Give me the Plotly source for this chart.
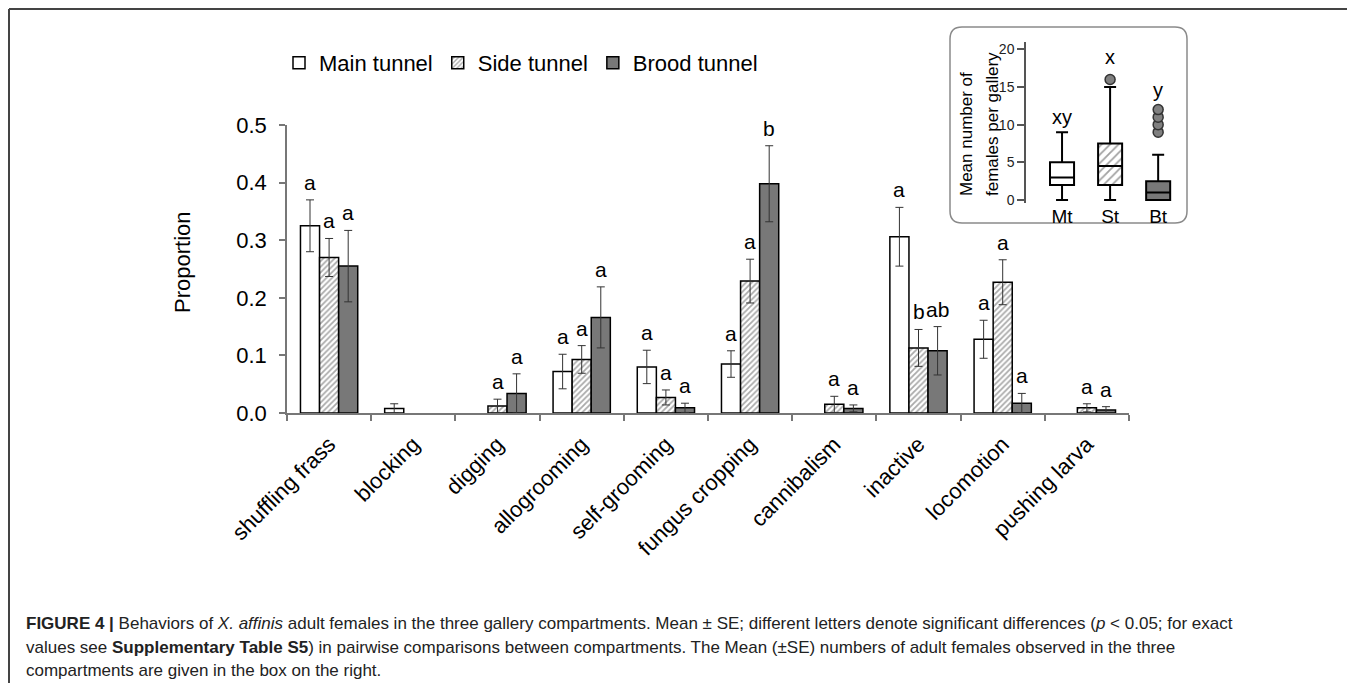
import plotly.graph_objects as go

# page body has an 8px margin: the figure starts at (8, 8) in the window
OX, OY = 8, 8
W, H = 1347, 675

# ---------------- main chart data ----------------
categories = ["shuffling frass", "blocking", "digging", "allogrooming", "self-grooming",
              "fungus cropping", "cannibalism", "inactive", "locomotion", "pushing larva"]
series_names = ["Main tunnel", "Side tunnel", "Brood tunnel"]
main_vals = [0.325, 0.008, None, 0.072, 0.080, 0.085, None, 0.306, 0.128, None]
main_se = [0.045, 0.008, None, 0.030, 0.029, 0.023, None, 0.051, 0.033, None]
side_vals = [0.270, None, 0.012, 0.093, 0.027, 0.229, 0.015, 0.113, 0.227, 0.009]
side_se = [0.033, None, 0.012, 0.024, 0.013, 0.038, 0.014, 0.032, 0.039, 0.007]
brood_vals = [0.255, None, 0.034, 0.166, 0.009, 0.398, 0.008, 0.108, 0.017, 0.005]
brood_se = [0.062, None, 0.034, 0.053, 0.008, 0.066, 0.006, 0.042, 0.017, 0.006]
main_letters = ["a", "", "", "a", "a", "a", "", "a", "a", ""]
side_letters = ["a", "", "a", "a", "a", "a", "a", "b", "a", "a"]
brood_letters = ["a", "", "a", "a", "a", "b", "a", "ab", "a", "a"]
y_ticks = [0.0, 0.1, 0.2, 0.3, 0.4, 0.5]

# ---------------- inset data ----------------
inset_cats = ["Mt", "St", "Bt"]
inset_q1 = [2, 2, 0]
inset_median = [3, 4.5, 1]
inset_q3 = [5, 7.5, 2.5]
inset_low = [0, 0, 0]
inset_high = [9, 15, 6]
inset_letters = ["xy", "x", "y"]
inset_letter_y = [11, 19, 14.6]
outlier_cat = ["St", "Bt", "Bt", "Bt", "Bt"]
outlier_val = [16, 9, 10, 11, 12]
inset_ticks = [0, 5, 10, 15, 20]

FONT = "Arial, Liberation Sans, sans-serif"
BARGAP = 0.32


def px(x):
    return (x - OX) / W


def py(y):
    return 1 - (y - OY) / H


fig = go.Figure()

styles = [
    dict(marker=dict(color="white", line=dict(color="black", width=1.5))),
    dict(marker=dict(color="white", line=dict(color="black", width=1.5),
                     pattern=dict(shape="/", fgcolor="#555555", bgcolor="white",
                                  size=4, solidity=0.45))),
    dict(marker=dict(color="#787878", line=dict(color="black", width=1.5))),
]
vals_all = [main_vals, side_vals, brood_vals]
se_all = [main_se, side_se, brood_se]
letters_all = [main_letters, side_letters, brood_letters]
xidx = list(range(len(categories)))

for k in range(3):
    fig.add_trace(go.Bar(
        x=xidx, y=vals_all[k], name=series_names[k],
        error_y=dict(type="data", array=[e if e is not None else 0 for e in se_all[k]],
                     visible=True, color="#333333", thickness=1, width=4),
        xaxis="x", yaxis="y", **styles[k]))

# significance letters
bw = (1 - BARGAP) / 3
annotations = []
for k in range(3):
    for i, lt in enumerate(letters_all[k]):
        if not lt:
            continue
        top = (vals_all[k][i] or 0) + (se_all[k][i] or 0)
        annotations.append(dict(x=i + (k - 1) * bw, y=top, xref="x", yref="y",
                                text=lt, showarrow=False, yanchor="bottom", yshift=4,
                                font=dict(family=FONT, size=21, color="black")))

# ---------------- inset ----------------
st_i = inset_cats.index("St")
fig.add_trace(go.Bar(
    x=[inset_cats[st_i]], y=[inset_q3[st_i] - inset_q1[st_i]], base=[inset_q1[st_i]],
    width=0.5, marker=dict(color="white", line=dict(width=0),
                           pattern=dict(shape="/", fgcolor="#444444", bgcolor="white",
                                        size=6, solidity=0.3)),
    xaxis="x2", yaxis="y2", showlegend=False, hoverinfo="skip"))

box_fills = ["white", "rgba(0,0,0,0)", "#787878"]
for i, c in enumerate(inset_cats):
    fig.add_trace(go.Box(
        x=[c], q1=[inset_q1[i]], median=[inset_median[i]], q3=[inset_q3[i]],
        lowerfence=[inset_low[i]], upperfence=[inset_high[i]],
        width=0.5, whiskerwidth=0.5, fillcolor=box_fills[i],
        line=dict(color="black", width=2), boxpoints=False,
        xaxis="x2", yaxis="y2", showlegend=False))

fig.add_trace(go.Scatter(
    x=outlier_cat, y=outlier_val, mode="markers",
    marker=dict(symbol="circle", size=10, color="#808080", line=dict(color="#333333", width=1.5)),
    xaxis="x2", yaxis="y2", showlegend=False))

for i, c in enumerate(inset_cats):
    annotations.append(dict(x=c, y=inset_letter_y[i], xref="x2", yref="y2", text=inset_letters[i],
                            showarrow=False, xanchor="center", yanchor="middle",
                            font=dict(family=FONT, size=20, color="black")))

for t, xx in zip(["Mean number of", "females per gallery"], [967, 993]):
    annotations.append(dict(x=px(xx), y=py(198), xref="paper", yref="paper",
                            text=t, textangle=-90, xanchor="center", yanchor="bottom",
                            showarrow=False, font=dict(family=FONT, size=17, color="black")))

# y title main
annotations.append(dict(x=px(182), y=py(262), xref="paper", yref="paper",
                        text="Proportion", textangle=-90, showarrow=False,
                        xanchor="center", yanchor="middle",
                        font=dict(family=FONT, size=22, color="black")))

# caption
cap_font = dict(family=FONT, size=17, color="#222222")
cap_lines = [
    "<b>FIGURE 4 |</b> Behaviors of <i>X. affinis</i> adult females in the three gallery compartments. "
    "Mean ± SE; different letters denote significant differences (<i>p</i> &lt; 0.05; for exact",
    "values see <b>Supplementary Table S5</b>) in pairwise comparisons between compartments. "
    "The Mean (±SE) numbers of adult females observed in the three",
    "compartments are given in the box on the right.",
]
cap_y = [623, 647, 670]
for t, yy in zip(cap_lines, cap_y):
    annotations.append(dict(x=px(24), y=py(yy), xref="paper", yref="paper", text=t,
                            showarrow=False, xanchor="left", yanchor="middle", font=cap_font))

# shapes: outer frame and rounded inset box
x0, y0, x1, y1, r = 950, 27, 1187, 223, 12
path = (f"M {px(x0 + r)},{py(y0)} L {px(x1 - r)},{py(y0)} Q {px(x1)},{py(y0)} {px(x1)},{py(y0 + r)} "
        f"L {px(x1)},{py(y1 - r)} Q {px(x1)},{py(y1)} {px(x1 - r)},{py(y1)} "
        f"L {px(x0 + r)},{py(y1)} Q {px(x0)},{py(y1)} {px(x0)},{py(y1 - r)} "
        f"L {px(x0)},{py(y0 + r)} Q {px(x0)},{py(y0)} {px(x0 + r)},{py(y0)} Z")
shapes = [
    dict(type="line", xref="paper", yref="paper", x0=px(9), y0=py(9), x1=1, y1=py(9),
         line=dict(color="#444444", width=2)),
    dict(type="line", xref="paper", yref="paper", x0=px(9), y0=py(9), x1=px(9), y1=0,
         line=dict(color="#444444", width=2)),
    dict(type="path", xref="paper", yref="paper", path=path, fillcolor="white",
         line=dict(color="#8a8a8a", width=1.5), layer="below"),
]

fig.update_layout(
    width=W, height=H, margin=dict(l=0, r=0, t=0, b=0, autoexpand=False),
    paper_bgcolor="white", plot_bgcolor="rgba(0,0,0,0)",
    barmode="group", bargap=BARGAP, bargroupgap=0,
    font=dict(family=FONT, color="black"),
    showlegend=True,
    legend=dict(orientation="h", xref="paper", yref="paper",
                x=px(279), y=py(63), xanchor="left", yanchor="middle",
                font=dict(family=FONT, size=22, color="black"),
                bgcolor="rgba(0,0,0,0)", itemclick=False, traceorder="normal"),
    xaxis=dict(domain=[px(287), px(1129)], range=[-0.5, len(categories) - 0.5],
               tickvals=xidx, ticktext=categories, tickangle=-45, ticks="",
               tickfont=dict(family=FONT, size=22, color="black"), ticklabelstandoff=8,
               showline=True, linecolor="#777777", linewidth=1.5, showgrid=False,
               zeroline=False, fixedrange=True, automargin=False,
               minor=dict(ticks="outside", tick0=-0.5, dtick=1, ticklen=6,
                          tickcolor="#777777", tickwidth=1.5, showgrid=False)),
    yaxis=dict(domain=[py(413), py(125)], range=[0, 0.5], tickvals=y_ticks,
               ticktext=[f"{v:.1f}" for v in y_ticks], ticks="outside", ticklen=6,
               tickcolor="#777777", tickwidth=1.5, ticklabelstandoff=8,
               tickfont=dict(family=FONT, size=22, color="black"),
               showline=True, linecolor="#777777", linewidth=1.5, showgrid=False,
               zeroline=False, fixedrange=True, automargin=False),
    xaxis2=dict(domain=[px(1026), px(1187)], range=[-0.75, 2.6], anchor="y2",
                type="category", categoryorder="array", categoryarray=inset_cats,
                showline=False, ticks="", showgrid=False, zeroline=False, automargin=False,
                tickfont=dict(family=FONT, size=19, color="black")),
    yaxis2=dict(domain=[py(203), py(41.8)], range=[-0.4, 21], anchor="x2",
                tickvals=inset_ticks, ticks="outside", ticklen=7, tickcolor="#555555",
                tickwidth=1.5, showline=True, linecolor="#555555", linewidth=1.5,
                showgrid=False, zeroline=False, automargin=False,
                tickfont=dict(family=FONT, size=14, color="#222222")),
    annotations=annotations,
    shapes=shapes,
)

fig.write_html("out.html")
